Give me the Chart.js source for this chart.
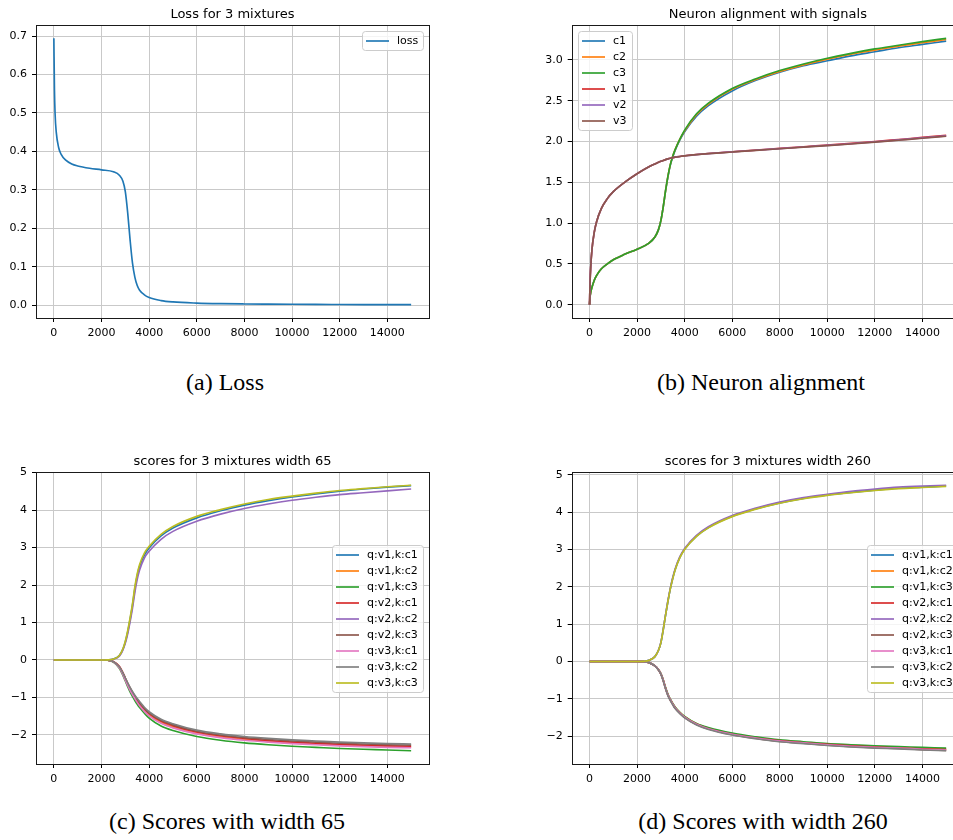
<!DOCTYPE html>
<html>
<head>
<meta charset="utf-8">
<script src="https://cdn.jsdelivr.net/npm/chart.js@4.4.1/dist/chart.umd.min.js"></script>
<style>
  html, body { margin: 0; padding: 0; background: #fff; width: 953px; height: 840px; overflow: hidden; }
  .panel { position: absolute; }
  .cap { position: absolute; width: 400px; text-align: center; font-family: 'Liberation Serif', 'Times New Roman', serif; font-size: 24px; line-height: 24px; color: #000; white-space: nowrap; }
</style>
</head>
<body>
<canvas id="chartA" class="panel" width="440" height="345" style="left:0px;top:0px;width:440px;height:345px"></canvas>
<canvas id="chartB" class="panel" width="445" height="345" style="left:530px;top:0px;width:445px;height:345px"></canvas>
<canvas id="chartC" class="panel" width="440" height="350" style="left:0px;top:440px;width:440px;height:350px"></canvas>
<canvas id="chartD" class="panel" width="445" height="350" style="left:530px;top:440px;width:445px;height:350px"></canvas>
<div class="cap" style="left:25px;top:370px">(a) Loss</div>
<div class="cap" style="left:561px;top:370px">(b) Neuron alignment</div>
<div class="cap" style="left:27px;top:809px">(c) Scores with width 65</div>
<div class="cap" style="left:563px;top:809px">(d) Scores with width 260</div>
<script>
// ---------- DATA ----------
const xTicks = [0, 2000, 4000, 6000, 8000, 10000, 12000, 14000];

// training steps for panels (a) and (b)
const stepsTrain = [0, 25, 50, 100, 200, 300, 500, 750, 1000, 1500, 2000, 2500, 2750, 2900, 3000, 3100, 3200, 3300, 3400, 3500, 3600, 3800, 4000, 4500, 5000, 6000, 7000, 8000, 9000, 10000, 11000, 12000, 13000, 14000, 15000];

const lossValues = [0.694, 0.56, 0.50, 0.45, 0.41, 0.393, 0.377, 0.367, 0.362, 0.356, 0.352, 0.347, 0.338, 0.322, 0.295, 0.24, 0.17, 0.11, 0.073, 0.051, 0.039, 0.027, 0.02, 0.012, 0.0085, 0.0055, 0.004, 0.0032, 0.0027, 0.0023, 0.002, 0.0018, 0.0016, 0.0014, 0.0013];

const c1Values = [0, 0.1, 0.15, 0.21, 0.3, 0.36, 0.44, 0.5, 0.55, 0.62, 0.68, 0.755, 0.83, 0.92, 1.03, 1.2, 1.4, 1.57, 1.71, 1.81, 1.89, 2.02, 2.12, 2.31, 2.44, 2.62, 2.75, 2.85, 2.93, 2.99, 3.05, 3.10, 3.15, 3.19, 3.23];
const c2Values = [0, 0.1, 0.15, 0.21, 0.3, 0.36, 0.44, 0.5, 0.55, 0.62, 0.68, 0.755, 0.83, 0.92, 1.03, 1.2, 1.4, 1.58, 1.72, 1.82, 1.9, 2.03, 2.13, 2.33, 2.46, 2.64, 2.76, 2.86, 2.94, 3.01, 3.07, 3.12, 3.17, 3.21, 3.25];
const c3Values = [0, 0.1, 0.15, 0.21, 0.3, 0.36, 0.44, 0.5, 0.55, 0.62, 0.68, 0.755, 0.83, 0.92, 1.03, 1.2, 1.4, 1.58, 1.72, 1.82, 1.9, 2.03, 2.14, 2.34, 2.47, 2.65, 2.77, 2.87, 2.95, 3.02, 3.08, 3.135, 3.18, 3.225, 3.265];
const v1Values = [0, 0.3, 0.46, 0.67, 0.89, 1.02, 1.18, 1.30, 1.385, 1.505, 1.605, 1.69, 1.725, 1.745, 1.757, 1.768, 1.778, 1.787, 1.795, 1.802, 1.808, 1.817, 1.825, 1.841, 1.853, 1.875, 1.895, 1.916, 1.936, 1.957, 1.977, 2.0, 2.025, 2.05, 2.075];
const v2Values = [0, 0.3, 0.46, 0.67, 0.89, 1.02, 1.18, 1.30, 1.385, 1.505, 1.605, 1.69, 1.725, 1.745, 1.757, 1.768, 1.778, 1.787, 1.795, 1.802, 1.808, 1.817, 1.825, 1.84, 1.852, 1.873, 1.893, 1.913, 1.933, 1.953, 1.973, 1.995, 2.02, 2.045, 2.07];
const v3Values = [0, 0.3, 0.46, 0.67, 0.89, 1.02, 1.18, 1.30, 1.385, 1.505, 1.605, 1.69, 1.725, 1.745, 1.757, 1.768, 1.778, 1.787, 1.795, 1.802, 1.808, 1.817, 1.824, 1.839, 1.851, 1.871, 1.891, 1.911, 1.931, 1.95, 1.97, 1.992, 2.016, 2.04, 2.065];

// training steps for panels (c) and (d)
const stepsScores = [0, 1000, 2000, 2250, 2500, 2750, 2900, 3000, 3100, 3200, 3300, 3400, 3500, 3600, 3800, 4000, 4500, 5000, 6000, 7000, 8000, 9000, 10000, 11000, 12000, 13000, 14000, 15000];

const scoreLabels = ['q:v1,k:c1', 'q:v1,k:c2', 'q:v1,k:c3', 'q:v2,k:c1', 'q:v2,k:c2', 'q:v2,k:c3', 'q:v3,k:c1', 'q:v3,k:c2', 'q:v3,k:c3'];

// width 65
const w65_v1c1 = [0, 0, 0, 0.005, 0.025, 0.12, 0.29, 0.48, 0.75, 1.08, 1.46, 1.9, 2.25, 2.5, 2.8, 2.99, 3.31, 3.52, 3.79, 3.98, 4.13, 4.25, 4.35, 4.43, 4.5, 4.56, 4.61, 4.65];
const w65_v1c2 = [0, 0, 0, -0.005, -0.05, -0.2, -0.38, -0.52, -0.66, -0.79, -0.9, -1.0, -1.1, -1.19, -1.34, -1.46, -1.66, -1.78, -1.95, -2.05, -2.12, -2.17, -2.21, -2.24, -2.27, -2.29, -2.31, -2.32];
const w65_v1c3 = [0, 0, 0, -0.006, -0.055, -0.22, -0.41, -0.56, -0.71, -0.85, -0.97, -1.08, -1.18, -1.27, -1.42, -1.55, -1.76, -1.88, -2.04, -2.14, -2.21, -2.26, -2.3, -2.33, -2.36, -2.38, -2.4, -2.42];
const w65_v2c1 = [0, 0, 0, -0.004, -0.04, -0.17, -0.34, -0.48, -0.62, -0.75, -0.87, -0.97, -1.07, -1.16, -1.31, -1.43, -1.63, -1.75, -1.92, -2.02, -2.09, -2.15, -2.19, -2.22, -2.25, -2.27, -2.29, -2.3];
const w65_v2c2 = [0, 0, 0, 0.005, 0.02, 0.1, 0.27, 0.45, 0.7, 1.02, 1.38, 1.8, 2.15, 2.4, 2.72, 2.9, 3.22, 3.43, 3.7, 3.89, 4.04, 4.16, 4.26, 4.34, 4.41, 4.46, 4.51, 4.56];
const w65_v2c3 = [0, 0, 0, -0.004, -0.045, -0.19, -0.36, -0.49, -0.63, -0.75, -0.86, -0.96, -1.05, -1.14, -1.29, -1.41, -1.61, -1.73, -1.9, -2.0, -2.07, -2.12, -2.16, -2.19, -2.22, -2.24, -2.26, -2.27];
const w65_v3c1 = [0, 0, 0, -0.005, -0.05, -0.21, -0.39, -0.54, -0.68, -0.81, -0.92, -1.03, -1.13, -1.22, -1.37, -1.49, -1.69, -1.81, -1.97, -2.07, -2.14, -2.19, -2.23, -2.26, -2.29, -2.31, -2.33, -2.34];
const w65_v3c2 = [0, 0, 0, -0.004, -0.045, -0.18, -0.35, -0.48, -0.61, -0.73, -0.84, -0.94, -1.03, -1.11, -1.26, -1.38, -1.58, -1.7, -1.87, -1.97, -2.04, -2.09, -2.13, -2.16, -2.19, -2.21, -2.23, -2.24];
const w65_v3c3 = [0, 0, 0, 0.005, 0.025, 0.12, 0.3, 0.5, 0.78, 1.12, 1.5, 1.95, 2.3, 2.55, 2.85, 3.03, 3.35, 3.56, 3.83, 4.01, 4.16, 4.28, 4.37, 4.45, 4.52, 4.57, 4.62, 4.66];

// width 260
const w260_v1c1 = [0, 0, 0, 0.005, 0.03, 0.13, 0.3, 0.5, 0.85, 1.25, 1.62, 1.95, 2.23, 2.46, 2.79, 3.01, 3.36, 3.59, 3.89, 4.09, 4.25, 4.37, 4.46, 4.53, 4.59, 4.64, 4.67, 4.70];
const w260_v1c2 = [0, 0, 0, -0.003, -0.03, -0.12, -0.22, -0.33, -0.5, -0.71, -0.89, -1.02, -1.13, -1.23, -1.37, -1.48, -1.67, -1.79, -1.94, -2.04, -2.12, -2.17, -2.22, -2.25, -2.28, -2.31, -2.33, -2.35];
const w260_v1c3 = [0, 0, 0, -0.003, -0.03, -0.12, -0.22, -0.32, -0.49, -0.7, -0.88, -1.01, -1.12, -1.22, -1.36, -1.47, -1.66, -1.77, -1.92, -2.02, -2.1, -2.15, -2.2, -2.23, -2.26, -2.28, -2.3, -2.32];
const w260_v2c1 = [0, 0, 0, -0.003, -0.03, -0.12, -0.22, -0.33, -0.5, -0.72, -0.9, -1.03, -1.14, -1.24, -1.38, -1.49, -1.68, -1.8, -1.95, -2.05, -2.12, -2.18, -2.22, -2.26, -2.29, -2.32, -2.34, -2.36];
const w260_v2c2 = [0, 0, 0, 0.005, 0.03, 0.13, 0.3, 0.51, 0.86, 1.26, 1.64, 1.97, 2.25, 2.48, 2.81, 3.03, 3.38, 3.61, 3.91, 4.11, 4.27, 4.39, 4.48, 4.56, 4.62, 4.67, 4.7, 4.72];
const w260_v2c3 = [0, 0, 0, -0.003, -0.03, -0.12, -0.23, -0.34, -0.51, -0.73, -0.91, -1.04, -1.15, -1.25, -1.39, -1.5, -1.69, -1.81, -1.96, -2.06, -2.14, -2.19, -2.24, -2.28, -2.31, -2.33, -2.36, -2.38];
const w260_v3c1 = [0, 0, 0, -0.003, -0.03, -0.12, -0.22, -0.33, -0.5, -0.72, -0.9, -1.03, -1.14, -1.24, -1.38, -1.49, -1.68, -1.8, -1.95, -2.05, -2.13, -2.18, -2.23, -2.27, -2.3, -2.32, -2.35, -2.37];
const w260_v3c2 = [0, 0, 0, -0.003, -0.03, -0.12, -0.23, -0.34, -0.52, -0.74, -0.92, -1.05, -1.16, -1.26, -1.4, -1.51, -1.7, -1.82, -1.97, -2.07, -2.15, -2.2, -2.25, -2.29, -2.32, -2.34, -2.37, -2.39];
const w260_v3c3 = [0, 0, 0, 0.005, 0.03, 0.13, 0.3, 0.5, 0.85, 1.25, 1.62, 1.95, 2.22, 2.45, 2.78, 3.0, 3.35, 3.58, 3.88, 4.08, 4.24, 4.36, 4.45, 4.52, 4.58, 4.63, 4.66, 4.69];

const tab10 = ['#1f77b4', '#ff7f0e', '#2ca02c', '#d62728', '#9467bd', '#8c564b', '#e377c2', '#7f7f7f', '#bcbd22'];

// ---------- RENDERING ----------
Chart.defaults.font.family = "'DejaVu Sans', sans-serif";
Chart.defaults.font.size = 11;
Chart.defaults.color = '#000';

const framePlugin = {
  id: 'frame',
  afterDatasetsDraw(chart) {
    const a = chart.chartArea, ctx = chart.ctx;
    ctx.save();
    ctx.strokeStyle = '#1a1a1a';
    ctx.lineWidth = 1;
    ctx.strokeRect(Math.round(a.left) + 0.5, Math.round(a.top) + 0.5, Math.round(a.right - a.left), Math.round(a.bottom - a.top));
    ctx.restore();
  }
};

const mplLegend = {
  id: 'mplLegend',
  afterDraw(chart, args, opts) {
    const ctx = chart.ctx, ca = chart.chartArea;
    const ds = chart.data.datasets;
    ctx.save();
    ctx.font = "11px 'DejaVu Sans'";
    const tw = Math.max(...ds.map(d => ctx.measureText(d.label).width));
    const rowH = 16;
    const w = 4 + 23 + 8 + tw + 5;
    const h = (ds.length - 1) * rowH + 19;
    let x, y;
    if (opts.loc === 'upper left') { x = ca.left + 6; y = ca.top + 6; }
    else if (opts.loc === 'center right') { x = ca.right - 6 - w; y = (ca.top + ca.bottom) / 2 - h / 2; }
    else { x = ca.right - 6 - w; y = ca.top + 6; }
    x = Math.round(x); y = Math.round(y);
    ctx.fillStyle = 'rgba(255,255,255,0.8)';
    ctx.strokeStyle = '#cccccc';
    ctx.lineWidth = 1;
    ctx.beginPath();
    ctx.roundRect(x + 0.5, y + 0.5, Math.round(w), h, 3);
    ctx.fill();
    ctx.stroke();
    ds.forEach((d, i) => {
      const cy = y + 10 + i * rowH;
      ctx.strokeStyle = d.borderColor;
      ctx.lineWidth = 1.65;
      ctx.beginPath();
      ctx.moveTo(x + 4, cy);
      ctx.lineTo(x + 27, cy);
      ctx.stroke();
      ctx.fillStyle = '#000';
      ctx.textBaseline = 'middle';
      ctx.textAlign = 'left';
      ctx.fillText(d.label, x + 35, cy);
    });
    ctx.restore();
  }
};

function fmtY(decimals) {
  return v => {
    const s = Math.abs(v).toFixed(decimals);
    return v < -1e-9 ? '\u2212' + s : s;
  };
}

function makePanel(id, cfg) {
  const allY = cfg.series.flatMap(s => s.values);
  const yMin = Math.min(...allY), yMax = Math.max(...allY);
  const yPad = (yMax - yMin) * 0.05;
  const xMin = Math.min(...cfg.steps), xMax = Math.max(...cfg.steps);
  const xPad = (xMax - xMin) * 0.05;
  const n = cfg.series.length;
  new Chart(document.getElementById(id), {
    type: 'line',
    data: {
      datasets: cfg.series.map((s, i) => ({
        label: s.label,
        data: cfg.steps.map((x, j) => ({ x: x, y: s.values[j] })),
        borderColor: s.color,
        backgroundColor: s.color,
        borderWidth: 1.65,
        pointRadius: 0,
        fill: false,
        cubicInterpolationMode: 'monotone',
        order: n - i
      }))
    },
    options: {
      responsive: false,
      animation: false,
      devicePixelRatio: 1,
      events: [],
      layout: { padding: { left: 0, right: cfg.padRight, top: 0, bottom: 0 } },
      plugins: {
        legend: { display: false },
        tooltip: { enabled: false },
        title: {
          display: true, text: cfg.title, fullSize: false, color: '#000',
          font: { family: "'DejaVu Sans'", size: 13, weight: 'normal', lineHeight: 1.2 },
          padding: { top: cfg.titleTop, bottom: cfg.titleBottom }
        },
        mplLegend: { loc: cfg.legendLoc }
      },
      scales: {
        x: {
          type: 'linear', bounds: 'data',
          min: xMin - xPad, max: xMax + xPad,
          afterBuildTicks: s => { s.ticks = xTicks.map(v => ({ value: v })); },
          ticks: { callback: v => String(v), autoSkip: false, maxRotation: 0, padding: 5, color: '#000', font: { size: 11 } },
          grid: { color: '#c9c9c9', lineWidth: 1, drawTicks: true, tickLength: 4, tickColor: '#000', tickWidth: 1 },
          border: { display: false },
          afterFit: s => { s.height = cfg.xAxisHeight; s.paddingLeft = 0; s.paddingRight = 0; }
        },
        y: {
          type: 'linear', bounds: 'data',
          min: yMin - yPad, max: yMax + yPad,
          afterBuildTicks: s => { s.ticks = cfg.yTicks.map(v => ({ value: v })); },
          ticks: { callback: fmtY(cfg.yDecimals), autoSkip: false, padding: 5, color: '#000', font: { size: 11 } },
          grid: { color: '#c9c9c9', lineWidth: 1, drawTicks: true, tickLength: 4, tickColor: '#000', tickWidth: 1 },
          border: { display: false },
          afterFit: s => { s.width = cfg.yAxisWidth; s.paddingTop = 0; s.paddingBottom = 0; }
        }
      }
    },
    plugins: [framePlugin, mplLegend]
  });
}

makePanel('chartA', {
  title: 'Loss for 3 mixtures', steps: stepsTrain, legendLoc: 'upper right',
  series: [{ label: 'loss', values: lossValues, color: tab10[0] }],
  yTicks: [0, 0.1, 0.2, 0.3, 0.4, 0.5, 0.6, 0.7], yDecimals: 1,
  padRight: 11, yAxisWidth: 36, xAxisHeight: 27, titleTop: 6.5, titleBottom: 2.9
});

makePanel('chartB', {
  title: 'Neuron alignment with signals', steps: stepsTrain, legendLoc: 'upper left',
  series: [
    { label: 'c1', values: c1Values, color: tab10[0] },
    { label: 'c2', values: c2Values, color: tab10[1] },
    { label: 'c3', values: c3Values, color: tab10[2] },
    { label: 'v1', values: v1Values, color: tab10[3] },
    { label: 'v2', values: v2Values, color: tab10[4] },
    { label: 'v3', values: v3Values, color: tab10[5] }
  ],
  yTicks: [0, 0.5, 1.0, 1.5, 2.0, 2.5, 3.0], yDecimals: 1,
  padRight: 11, yAxisWidth: 41.7, xAxisHeight: 27, titleTop: 6.5, titleBottom: 2.9
});

const w65 = [w65_v1c1, w65_v1c2, w65_v1c3, w65_v2c1, w65_v2c2, w65_v2c3, w65_v3c1, w65_v3c2, w65_v3c3];
const w260 = [w260_v1c1, w260_v1c2, w260_v1c3, w260_v2c1, w260_v2c2, w260_v2c3, w260_v3c1, w260_v3c2, w260_v3c3];

makePanel('chartC', {
  title: 'scores for 3 mixtures width 65', steps: stepsScores, legendLoc: 'center right',
  series: w65.map((v, i) => ({ label: scoreLabels[i], values: v, color: tab10[i] })),
  yTicks: [-2, -1, 0, 1, 2, 3, 4, 5], yDecimals: 0,
  padRight: 11, yAxisWidth: 36, xAxisHeight: 26, titleTop: 13.5, titleBottom: 2.9
});

makePanel('chartD', {
  title: 'scores for 3 mixtures width 260', steps: stepsScores, legendLoc: 'center right',
  series: w260.map((v, i) => ({ label: scoreLabels[i], values: v, color: tab10[i] })),
  yTicks: [-2, -1, 0, 1, 2, 3, 4, 5], yDecimals: 0,
  padRight: 11, yAxisWidth: 41.7, xAxisHeight: 26, titleTop: 13.5, titleBottom: 2.9
});
</script>
</body>
</html>
